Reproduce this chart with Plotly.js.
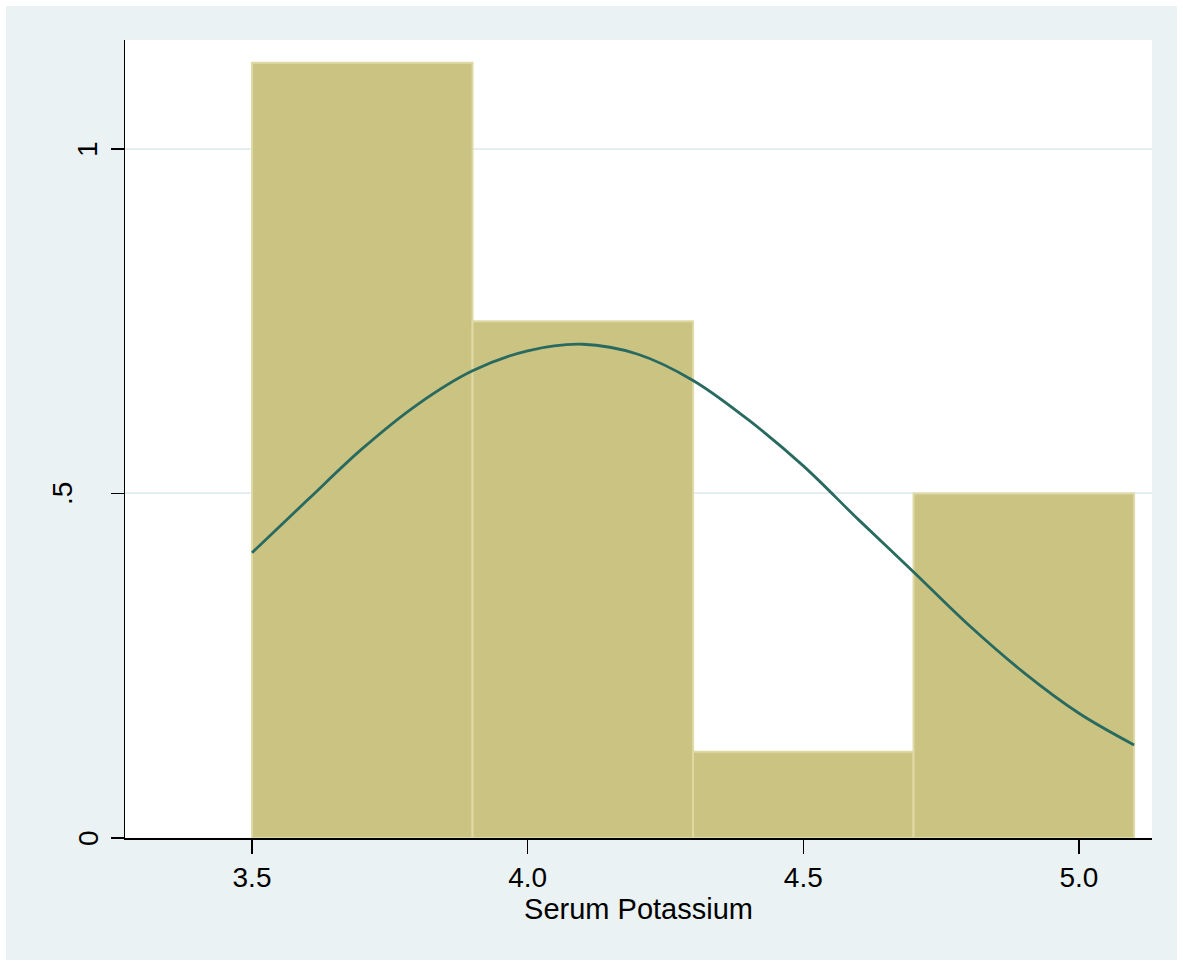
<!DOCTYPE html>
<html>
<head>
<meta charset="utf-8">
<script src="https://cdn.plot.ly/plotly-3.0.1.min.js"></script>
<style>body{margin:0;padding:0;background:#fff;} #chart{width:1183px;height:966px;}</style>
</head>
<body>
<div id="chart"></div>
<script>
// Histogram bins (Serum Potassium), density heights
var binStarts = [3.5, 3.9, 4.3, 4.7];
var binWidth = 0.4;
var density = [1.125, 0.75, 0.125, 0.5];

// Normal density overlay
var curveX = [3.5, 3.6, 3.7, 3.8, 3.9, 4.0, 4.1, 4.2, 4.3, 4.4, 4.5, 4.6, 4.7, 4.8, 4.9, 5.0, 5.1];
var curveY = [0.414, 0.490, 0.565, 0.629, 0.678, 0.707, 0.7165, 0.702, 0.664, 0.607, 0.540, 0.462, 0.386, 0.309, 0.240, 0.181, 0.135];

var xTicks = [3.5, 4.0, 4.5, 5.0];
var yTicks = [0, 0.5, 1];
var yTickText = ['0', '.5', '1'];
var xTitle = 'Serum Potassium';

var binCenters = binStarts.map(function (s) { return s + binWidth / 2; });

var W = 1183, H = 966;
var L = 125, R = 31, T = 40, B = 128;
var pw = W - L - R, ph = H - T - B;
function px2paperX(p) { return (p - L) / pw; }
function px2paperY(p) { return (H - B - p) / ph; }

var traces = [
  {
    type: 'bar',
    x: binCenters,
    y: density,
    width: binWidth,
    marker: { color: 'rgb(203,195,130)', line: { color: 'rgb(222,217,165)', width: 2 } },
    hoverinfo: 'x+y'
  },
  {
    type: 'scatter',
    mode: 'lines',
    x: curveX,
    y: curveY,
    line: { color: 'rgb(40,106,96)', width: 2.8, shape: 'spline', smoothing: 1 },
    hoverinfo: 'x+y'
  }
];

var yLabelX = [88, 62.5, 88];
var annotations = yTicks.map(function (v, i) {
  return {
    x: px2paperX(yLabelX[i]), xref: 'paper',
    y: v, yref: 'y',
    text: yTickText[i],
    textangle: -90,
    showarrow: false,
    font: { family: 'Liberation Sans, Arial, sans-serif', size: 28, color: '#000' },
    xanchor: 'center', yanchor: 'middle'
  };
});

var layout = {
  width: W, height: H,
  margin: { l: L, r: R, t: T, b: B, pad: 0 },
  paper_bgcolor: '#ffffff',
  plot_bgcolor: '#ffffff',
  showlegend: false,
  bargap: 0,
  shapes: [
    { type: 'rect', xref: 'paper', yref: 'paper', layer: 'below',
      x0: px2paperX(6), x1: px2paperX(1177), y0: px2paperY(960), y1: px2paperY(6),
      fillcolor: '#EAF2F3', line: { width: 0 } },
    { type: 'rect', xref: 'paper', yref: 'paper', layer: 'below',
      x0: 0, x1: 1, y0: 0, y1: 1,
      fillcolor: '#ffffff', line: { width: 0 } }
  ],
  annotations: annotations,
  xaxis: {
    range: [3.2696, 5.1325],
    tickvals: xTicks,
    tickformat: '.1f',
    ticks: 'outside', ticklen: 14, tickwidth: 1.5, tickcolor: '#000',
    showline: true, linecolor: '#000', linewidth: 1.5,
    showgrid: false, zeroline: false,
    tickfont: { family: 'Liberation Sans, Arial, sans-serif', size: 28, color: '#000' },
    title: { text: xTitle, standoff: 4,
      font: { family: 'Liberation Sans, Arial, sans-serif', size: 29, color: '#000' } },
    automargin: false
  },
  yaxis: {
    range: [0, 1.158],
    tickvals: yTicks,
    showticklabels: false,
    ticks: 'outside', ticklen: 13, tickwidth: 1.5, tickcolor: '#000',
    showline: true, linecolor: '#000', linewidth: 1.5,
    showgrid: true, gridcolor: '#E6EFF0', gridwidth: 2,
    zeroline: false,
    automargin: false
  }
};

Plotly.newPlot('chart', traces, layout, { displayModeBar: false, staticPlot: true });
</script>
</body>
</html>
